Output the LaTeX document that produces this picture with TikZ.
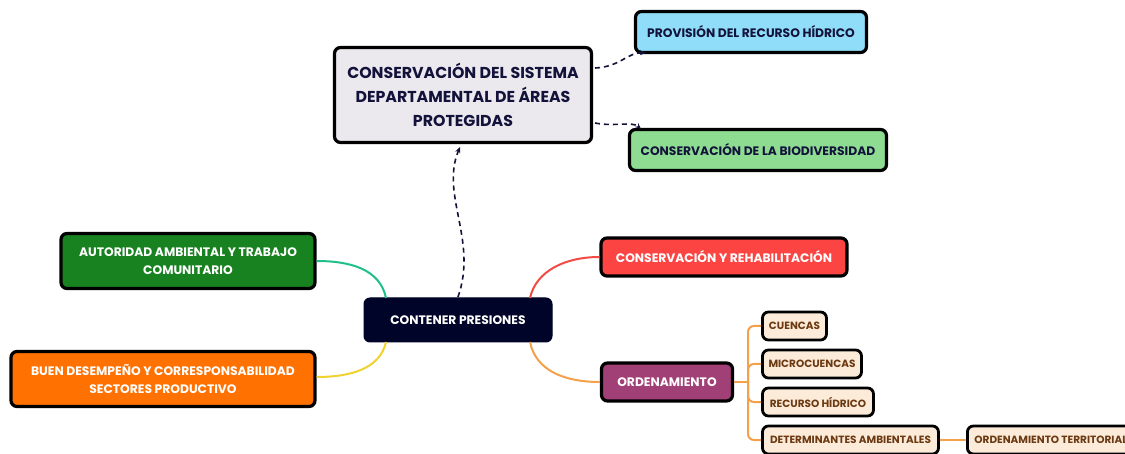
\documentclass[tikz,border=0pt]{standalone}
\usepackage{fontspec}
\setmainfont{Poppins}
\usetikzlibrary{arrows.meta}
\definecolor{navy}{HTML}{12123A}
\definecolor{mainfill}{HTML}{EBE9EE}
\definecolor{bluefill}{HTML}{8FDDF9}
\definecolor{lgreen}{HTML}{8EDC92}
\definecolor{dnavy}{HTML}{000428}
\definecolor{dgreen}{HTML}{17821F}
\definecolor{orangef}{HTML}{FF7100}
\definecolor{redf}{HTML}{FC4542}
\definecolor{purplef}{HTML}{A13F77}
\definecolor{peach}{HTML}{FDEBD9}
\definecolor{brownt}{HTML}{6B3A12}
\definecolor{tealc}{HTML}{20C08A}
\definecolor{yellowc}{HTML}{F2D22E}
\definecolor{redc}{HTML}{F24B45}
\definecolor{orangec}{HTML}{F5A04A}
\begin{document}
\begin{tikzpicture}[x=1pt,y=-1pt,
  box/.style={draw=black, line width=3.2pt, rounded corners=6pt, align=center, inner sep=0pt, font=\bfseries\fontsize{12.3}{18}\selectfont},
  child/.style={draw=black, line width=2.8pt, rounded corners=6pt, inner sep=0pt, fill=peach, text=brownt, font=\bfseries\fontsize{10.5}{12}\selectfont},
  dashc/.style={draw=navy, line width=1.6pt, dash pattern=on 5pt off 4pt, -{Stealth[length=6pt,width=5pt]}},
  obr/.style={draw=orangec, line width=2pt, rounded corners=6pt}
]
\useasboundingbox (0,0) rectangle (1125,454);
\fill[white] (0,0) rectangle (1125,454);

\node[box, fill=mainfill, text=navy, minimum width=257pt, minimum height=95pt, font=\bfseries\fontsize{15.8}{24}\selectfont] (main) at (463,95)
  {CONSERVACIÓN DEL SISTEMA\\DEPARTAMENTAL DE ÁREAS\\PROTEGIDAS};
\node[box, fill=bluefill, text=navy, minimum width=231pt, minimum height=41pt] (prov) at (751,32) {PROVISIÓN DEL RECURSO HÍDRICO};
\node[box, fill=lgreen, text=navy, minimum width=257pt, minimum height=41pt] (bio) at (758,150) {CONSERVACIÓN DE LA BIODIVERSIDAD};

\node[draw=dnavy, fill=dnavy, line width=1pt, rounded corners=6pt, text=white, minimum width=188pt, minimum height=44pt, font=\bfseries\fontsize{12.3}{15}\selectfont] (cont) at (458,320) {CONTENER PRESIONES};

\node[box, fill=dgreen, text=white, minimum width=254pt, minimum height=55pt] (aut) at (188,261) {AUTORIDAD AMBIENTAL Y TRABAJO\\COMUNITARIO};
\node[box, fill=orangef, text=white, minimum width=304pt, minimum height=55pt] (buen) at (163,379) {BUEN DESEMPEÑO Y CORRESPONSABILIDAD\\SECTORES PRODUCTIVO};

\node[box, fill=redf, text=white, minimum width=246pt, minimum height=38pt] (cyr) at (724,257) {CONSERVACIÓN Y REHABILITACIÓN};
\node[box, fill=purplef, text=white, minimum width=131pt, minimum height=38pt] (ord) at (667,382) {ORDENAMIENTO};

\node[child, minimum width=64pt, minimum height=28pt] (cue) at (794.5,326) {CUENCAS};
\node[child, minimum width=99pt, minimum height=28pt] (mic) at (812,364) {MICROCUENCAS};
\node[child, minimum width=111pt, minimum height=28pt] (rec) at (818,402) {RECURSO HÍDRICO};
\node[child, minimum width=176pt, minimum height=28pt] (det) at (850.5,440) {DETERMINANTES AMBIENTALES};
\node[child, minimum height=28pt, inner xsep=7pt, anchor=west] (ter) at (966,440) {ORDENAMIENTO TERRITORIAL};

% dashed arrows
\draw[dashc] (458,297) .. controls (478,240) and (440,195) .. (460,147);
\draw[dashc] (595,68) .. controls (620,67) and (628,52) .. (646,53);
\draw[dashc] (595,123) .. controls (615,127) and (632,121) .. (641,129);

% main branches
\draw[tealc, line width=2pt] (386,298) .. controls (380,269) and (350,261) .. (aut.east |- 0,261);
\draw[yellowc, line width=2pt] (386,342) .. controls (380,369) and (350,377) .. (buen.east |- 0,377);
\draw[redc, line width=2pt] (530,298) .. controls (536,271) and (565,257) .. (cyr.west |- 0,257);
\draw[orangec, line width=2pt] (530,342) .. controls (536,371) and (565,382) .. (ord.west);

% ordenamiento bracket
\coordinate (tr) at (748,382);
\draw[obr] (ord.east) -- (tr);
\draw[obr] (cue.west) -| (tr);
\draw[obr] (mic.west) -| (tr);
\draw[obr] (rec.west) -| (tr);
\draw[obr] (det.west) -| (tr);
\draw[orangec, line width=2pt] (det.east) -- (ter.west);
\end{tikzpicture}
\end{document}
